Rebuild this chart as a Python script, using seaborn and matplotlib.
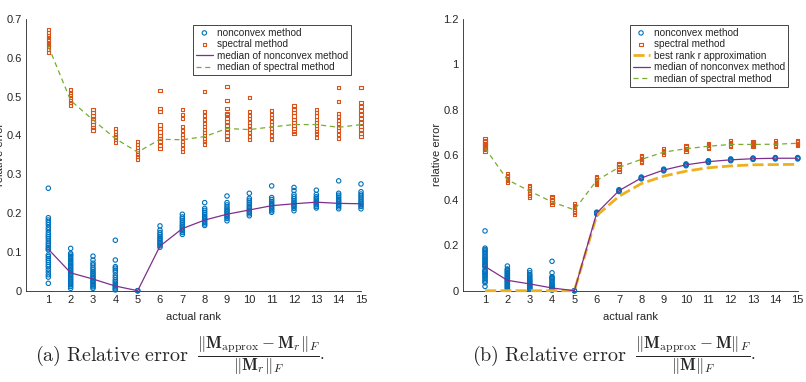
import numpy as np
import pandas as pd
import seaborn as sns
import matplotlib.pyplot as plt

# === Data ===
ranks = list(range(1, 16))

# nonconvex method, relative error to M_r (one list per actual rank)
nonconvex_a = [
    [0.264, 0.188, 0.182, 0.176, 0.170, 0.163, 0.157, 0.150, 0.144, 0.139, 0.134, 0.128, 0.122,
     0.117, 0.112, 0.108, 0.105, 0.092, 0.088, 0.083, 0.078, 0.073, 0.067, 0.062, 0.055, 0.048,
     0.041, 0.035, 0.019],
    [0.109, 0.096, 0.092, 0.088, 0.083, 0.079, 0.075, 0.070, 0.066, 0.062, 0.058, 0.054, 0.050,
     0.046, 0.043, 0.039, 0.035, 0.031, 0.027, 0.023, 0.019, 0.015, 0.011, 0.006],
    [0.089, 0.079, 0.071, 0.066, 0.060, 0.055, 0.050, 0.046, 0.042, 0.038, 0.034, 0.031, 0.027,
     0.024, 0.020, 0.017, 0.013, 0.010, 0.006],
    [0.130, 0.079, 0.062, 0.058, 0.053, 0.048, 0.040, 0.034, 0.028, 0.024, 0.020, 0.016, 0.013,
     0.010, 0.007, 0.004, 0.002],
    [0.0, 0.0, 0.0],
    [0.167, 0.156, 0.150, 0.145, 0.140, 0.136, 0.132, 0.128, 0.124, 0.120, 0.116, 0.112],
    [0.197, 0.190, 0.185, 0.180, 0.175, 0.170, 0.166, 0.162, 0.158, 0.154, 0.150, 0.145],
    [0.227, 0.212, 0.207, 0.202, 0.197, 0.192, 0.188, 0.184, 0.180, 0.176, 0.172, 0.168],
    [0.244, 0.227, 0.221, 0.215, 0.210, 0.206, 0.202, 0.198, 0.194, 0.190, 0.186, 0.180],
    [0.251, 0.238, 0.233, 0.228, 0.223, 0.218, 0.214, 0.210, 0.206, 0.202, 0.198, 0.193],
    [0.270, 0.240, 0.235, 0.230, 0.226, 0.222, 0.218, 0.214, 0.210, 0.206, 0.202],
    [0.266, 0.258, 0.248, 0.242, 0.237, 0.232, 0.228, 0.224, 0.220, 0.216, 0.212, 0.206],
    [0.259, 0.248, 0.242, 0.238, 0.234, 0.230, 0.227, 0.224, 0.221, 0.217, 0.213],
    [0.283, 0.251, 0.246, 0.241, 0.236, 0.232, 0.228, 0.224, 0.220, 0.216, 0.211],
    [0.275, 0.255, 0.249, 0.244, 0.239, 0.234, 0.229, 0.225, 0.221, 0.217, 0.211],
]

# spectral method, relative error to M_r
spectral_a = [
    [0.672, 0.665, 0.658, 0.652, 0.646, 0.640, 0.634, 0.628, 0.622, 0.614],
    [0.517, 0.510, 0.503, 0.497, 0.491, 0.485, 0.477],
    [0.466, 0.458, 0.450, 0.443, 0.436, 0.429, 0.421, 0.414],
    [0.418, 0.410, 0.403, 0.396, 0.389, 0.381],
    [0.384, 0.376, 0.368, 0.360, 0.352, 0.345, 0.338],
    [0.516, 0.470, 0.461, 0.427, 0.418, 0.409, 0.400, 0.392, 0.384, 0.375, 0.367],
    [0.467, 0.455, 0.444, 0.423, 0.413, 0.403, 0.394, 0.385, 0.376, 0.367, 0.358],
    [0.513, 0.461, 0.451, 0.442, 0.431, 0.423, 0.415, 0.407, 0.400, 0.392, 0.385, 0.378],
    [0.526, 0.491, 0.470, 0.457, 0.453, 0.444, 0.435, 0.426, 0.417, 0.408, 0.399, 0.390],
    [0.498, 0.461, 0.452, 0.443, 0.434, 0.425, 0.416, 0.407, 0.398, 0.390],
    [0.464, 0.455, 0.446, 0.437, 0.428, 0.419, 0.410, 0.401, 0.390],
    [0.476, 0.466, 0.458, 0.450, 0.442, 0.434, 0.426, 0.418, 0.411, 0.405],
    [0.466, 0.458, 0.450, 0.442, 0.434, 0.426, 0.418, 0.411, 0.405, 0.395],
    [0.524, 0.487, 0.457, 0.448, 0.439, 0.430, 0.421, 0.412, 0.403, 0.393],
    [0.524, 0.484, 0.474, 0.464, 0.454, 0.444, 0.434, 0.424, 0.415, 0.406, 0.397],
]

median_nonconvex_a = [0.107, 0.046, 0.030, 0.012, 0.0, 0.115, 0.160, 0.182, 0.197, 0.208,
                      0.219, 0.224, 0.228, 0.225, 0.224]
median_spectral_a = [0.630, 0.490, 0.440, 0.392, 0.357, 0.390, 0.389, 0.397, 0.418, 0.415,
                     0.422, 0.428, 0.428, 0.421, 0.428]

# relative error to M: ranks 6-15 (ranks 1-5 coincide with panel a)
nonconvex_b_high = [
    [0.347, 0.344, 0.342, 0.339],
    [0.446, 0.443, 0.441, 0.438],
    [0.502, 0.499, 0.497, 0.494],
    [0.537, 0.534, 0.532, 0.529],
    [0.560, 0.557, 0.555, 0.552],
    [0.574, 0.571, 0.569, 0.566],
    [0.582, 0.579, 0.577, 0.574],
    [0.586, 0.584, 0.582, 0.580],
    [0.588, 0.586, 0.584, 0.582],
    [0.588, 0.586, 0.584, 0.582],
]
spectral_b_high = [
    [0.505, 0.498, 0.492, 0.486, 0.480, 0.474, 0.468],
    [0.563, 0.556, 0.549, 0.542, 0.535, 0.528],
    [0.598, 0.592, 0.585, 0.579, 0.573, 0.567],
    [0.627, 0.621, 0.615, 0.609, 0.603],
    [0.640, 0.635, 0.629, 0.623, 0.617],
    [0.652, 0.646, 0.640, 0.634, 0.628],
    [0.661, 0.655, 0.649, 0.643, 0.637],
    [0.660, 0.654, 0.648, 0.642, 0.636],
    [0.661, 0.655, 0.649, 0.643, 0.637],
    [0.664, 0.658, 0.652, 0.646, 0.640],
]
median_nonconvex_b = [0.107, 0.046, 0.030, 0.012, 0.0, 0.343, 0.442, 0.498, 0.533, 0.556,
                      0.570, 0.578, 0.583, 0.585, 0.585]
median_spectral_b = [0.630, 0.490, 0.440, 0.392, 0.357, 0.487, 0.545, 0.580, 0.612, 0.627,
                     0.638, 0.646, 0.646, 0.647, 0.651]
best_rank_b = [0.0, 0.0, 0.0, 0.0, 0.0, 0.332, 0.417, 0.473, 0.506, 0.528, 0.543, 0.551,
               0.556, 0.557, 0.558]

# MATLAB default colours
BLUE, ORANGE, YELLOW = "#0072BD", "#D95319", "#EDB120"
PURPLE, GREEN = "#7E2F8E", "#77AC30"
AX_COLOR = "#262626"


def to_long(groups):
    rows = [(r, v) for r, vals in zip(ranks, groups) for v in vals]
    return pd.DataFrame(rows, columns=["rank", "error"])


sns.set_style("white")
plt.rcParams["font.family"] = ["Liberation Sans", "DejaVu Sans"]
plt.rcParams["mathtext.fontset"] = "cm"

fig = plt.figure(figsize=(8.06, 3.82), dpi=100)
W, H = 806, 382
ax_a = fig.add_axes([26 / W, 1 - 290.7 / H, 335 / W, 271.7 / H])
ax_b = fig.add_axes([462.7 / W, 1 - 290.7 / H, 335 / W, 271.7 / H])


def draw_panel(ax, nonconvex, spectral, med_nc, med_sp, ymax, yticks, best=None):
    sns.scatterplot(data=to_long(nonconvex), x="rank", y="error", ax=ax, marker="o",
                    color="none", edgecolor=BLUE, linewidth=0.8, s=10,
                    clip_on=False, label="nonconvex method", zorder=3)
    sns.scatterplot(data=to_long(spectral), x="rank", y="error", ax=ax, marker="s",
                    color="none", edgecolor=ORANGE, linewidth=0.8, s=5,
                    clip_on=False, label="spectral method", zorder=3)
    if best is not None:
        sns.lineplot(x=ranks, y=best, ax=ax, color=YELLOW, linewidth=2.0,
                     linestyle=(0, (4, 1.5)), clip_on=False,
                     label="best rank r approximation", zorder=4)
    sns.lineplot(x=ranks, y=med_nc, ax=ax, color=PURPLE, linewidth=0.9,
                 clip_on=False, label="median of nonconvex method", zorder=5)
    sns.lineplot(x=ranks, y=med_sp, ax=ax, color=GREEN, linewidth=0.9,
                 linestyle=(0, (4, 3)), clip_on=False,
                 label="median of spectral method", zorder=5)

    ax.set_xlim(0, 15)
    ax.set_ylim(0, ymax)
    ax.set_xticks(ranks)
    ax.set_yticks(yticks)
    ax.set_yticklabels([f"{t:g}" for t in yticks])
    ax.tick_params(direction="in", length=3, width=0.5, labelsize=8,
                   colors=AX_COLOR, pad=3)
    for side in ["top", "right"]:
        ax.spines[side].set_visible(False)
    for side in ["left", "bottom"]:
        ax.spines[side].set_color(AX_COLOR)
        ax.spines[side].set_linewidth(0.6)
    ax.set_xlabel("actual rank", fontsize=8, color=AX_COLOR, labelpad=5)
    ax.set_ylabel("relative error", fontsize=8, color=AX_COLOR, labelpad=1)

    leg = ax.legend(loc="upper right", bbox_to_anchor=(0.985, 0.998), fontsize=7.2,
                    frameon=True, fancybox=False, framealpha=1, edgecolor=AX_COLOR,
                    handlelength=1.7, handletextpad=0.4, labelspacing=0.15,
                    borderpad=0.3, scatterpoints=1, markerscale=1.0)
    leg.get_frame().set_linewidth(0.6)


draw_panel(ax_a, nonconvex_a, spectral_a, median_nonconvex_a, median_spectral_a,
           0.7, [0, 0.1, 0.2, 0.3, 0.4, 0.5, 0.6, 0.7])
draw_panel(ax_b, nonconvex_a[:5] + nonconvex_b_high, spectral_a[:5] + spectral_b_high,
           median_nonconvex_b, median_spectral_b,
           1.2, [0, 0.2, 0.4, 0.6, 0.8, 1.0, 1.2], best=best_rank_b)

# captions: words on the left, fraction on the right
cap_y = 1 - 356 / H
fig.text(189 / W, cap_y, r"$\mathrm{(a)\ Relative\ error}$",
         ha="right", va="center", fontsize=14.5)
fig.text(197 / W, cap_y,
         r"$\dfrac{\|\mathbf{M}_{\mathrm{approx}}-\mathbf{M}_r\|_F}{\|\mathbf{M}_r\|_F}.$",
         ha="left", va="center", fontsize=12)
fig.text(627 / W, cap_y, r"$\mathrm{(b)\ Relative\ error}$",
         ha="right", va="center", fontsize=14.5)
fig.text(635 / W, cap_y,
         r"$\dfrac{\|\mathbf{M}_{\mathrm{approx}}-\mathbf{M}\|_F}{\|\mathbf{M}\|_F}.$",
         ha="left", va="center", fontsize=12)

fig.savefig("out.png", dpi=100)
